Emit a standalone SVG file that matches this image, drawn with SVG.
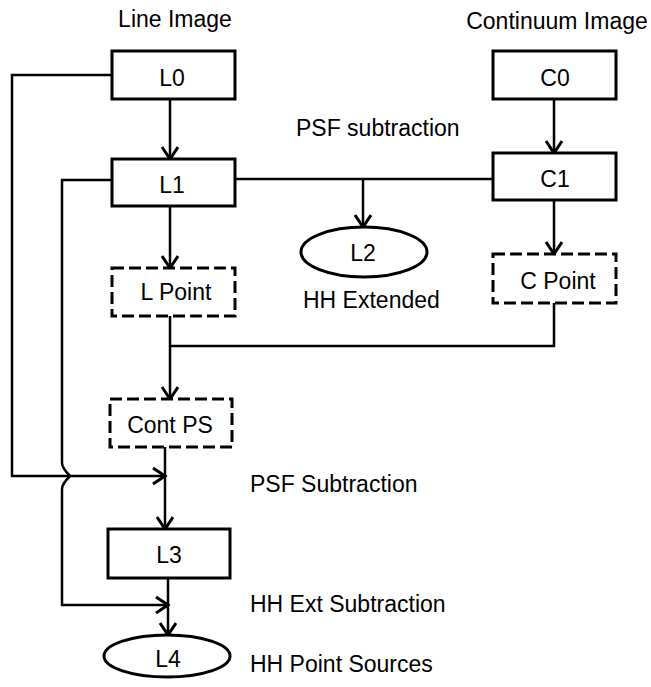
<svg xmlns="http://www.w3.org/2000/svg" width="651" height="687" viewBox="0 0 651 687">
<defs>
<marker id="arr" markerWidth="16" markerHeight="20" refX="13" refY="9" orient="auto" markerUnits="userSpaceOnUse">
<path d="M1,1 L13,9 L1,17" fill="none" stroke="#000" stroke-width="3"/>
</marker>
</defs>
<style>
text{font-family:"Liberation Sans",Arial,sans-serif;font-size:23px;fill:#000}
.c{text-anchor:middle}
.box{fill:#fff;stroke:#000;stroke-width:3}
.dash{fill:#fff;stroke:#000;stroke-width:3;stroke-dasharray:12 5}
.ln{fill:none;stroke:#000;stroke-width:2.5}
</style>
<rect width="651" height="687" fill="#fff"/>
<g id="connectors">
<path class="ln" d="M112,75 H12 V476 H165" marker-end="url(#arr)"/>
<path class="ln" d="M112,180 H62 V463 Q62,468 70,476 Q62,484 62,489 V605 H168" marker-end="url(#arr)"/>
<path class="ln" d="M170,99 V159" marker-end="url(#arr)"/>
<path class="ln" d="M235,179 H493"/>
<path class="ln" d="M363,179 V227" marker-end="url(#arr)"/>
<path class="ln" d="M554,99 V153" marker-end="url(#arr)"/>
<path class="ln" d="M554,200 V254" marker-end="url(#arr)"/>
<path class="ln" d="M170,206 V268" marker-end="url(#arr)"/>
<path class="ln" d="M554,303 V346 H170"/>
<path class="ln" d="M170,316 V399" marker-end="url(#arr)"/>
<path class="ln" d="M165,447 V529" marker-end="url(#arr)"/>
<path class="ln" d="M168,578 V635" marker-end="url(#arr)"/>
</g>
<g id="labels">
<text class="c" x="175" y="27">Line Image</text>
<text class="c" x="557" y="29">Continuum Image</text>
<text x="296" y="136">PSF subtraction</text>
<text x="303" y="308">HH Extended</text>
<text x="250" y="492">PSF Subtraction</text>
<text x="250" y="612">HH Ext Subtraction</text>
<text x="250" y="672">HH Point Sources</text>
</g>
<g id="L0"><rect class="box" x="112" y="51" width="123" height="48"/><text class="c" x="172" y="86">L0</text></g>
<g id="L1"><rect class="box" x="112" y="159" width="123" height="47"/><text class="c" x="172" y="193">L1</text></g>
<g id="C0"><rect class="box" x="493" y="51" width="123" height="48"/><text class="c" x="555" y="86">C0</text></g>
<g id="C1"><rect class="box" x="493" y="153" width="123" height="47"/><text class="c" x="555" y="187">C1</text></g>
<g id="L2"><ellipse class="box" cx="364" cy="252" rx="63" ry="25"/><text class="c" x="363" y="261">L2</text></g>
<g id="LPoint"><rect class="dash" x="112" y="268" width="123" height="48"/><text class="c" x="176" y="300">L Point</text></g>
<g id="CPoint"><rect class="dash" x="493" y="254" width="123" height="49"/><text class="c" x="558" y="289">C Point</text></g>
<g id="ContPS"><rect class="dash" x="110" y="399" width="122" height="48"/><text class="c" x="170" y="433">Cont PS</text></g>
<g id="L3"><rect class="box" x="108" y="529" width="122" height="49"/><text class="c" x="169" y="563">L3</text></g>
<g id="L4"><ellipse class="box" cx="167" cy="656" rx="63" ry="21"/><text class="c" x="168" y="667">L4</text></g>
</svg>
